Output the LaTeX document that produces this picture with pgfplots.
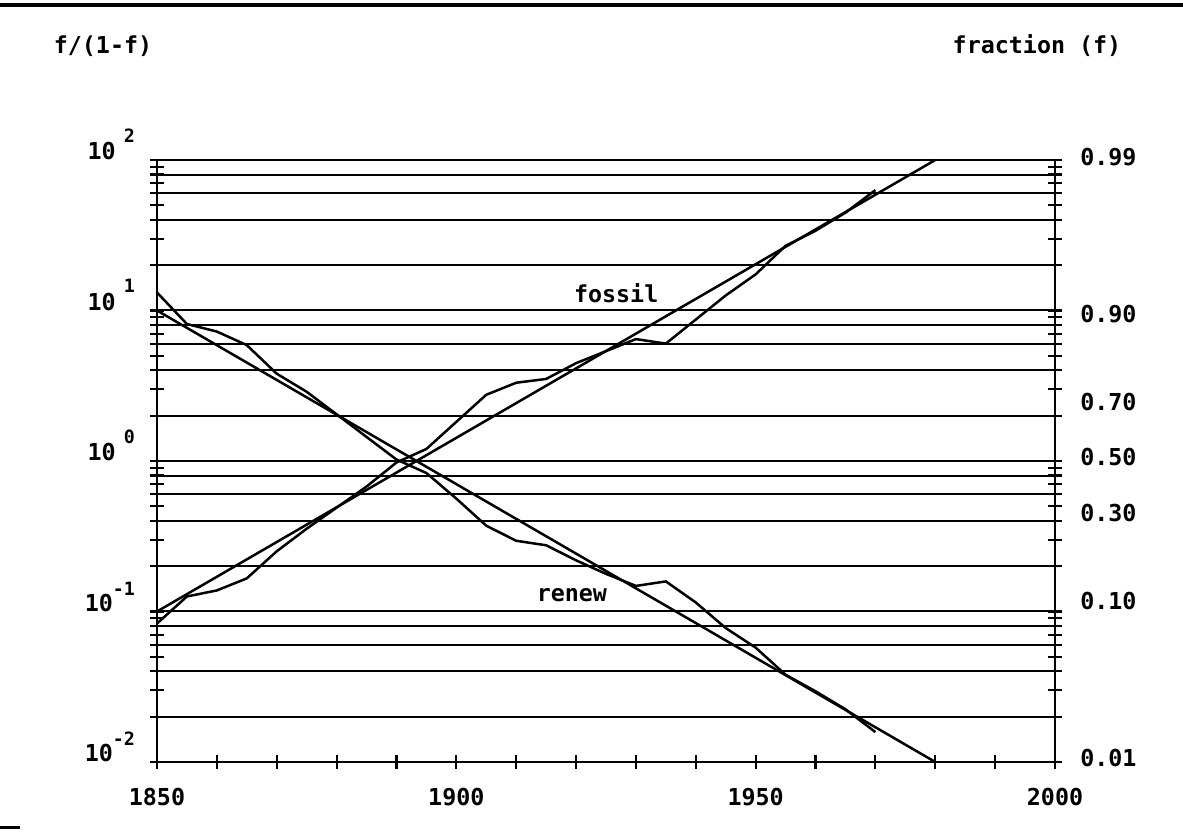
\documentclass[border=0pt]{standalone}
\usepackage{fontspec}
\setmainfont{DejaVu Sans Mono}
\usepackage{pgfplots}
\pgfplotsset{compat=1.18}
\newcommand{\lf}{\fontsize{14}{16}\selectfont\bfseries}
\newcommand{\supf}{\fontsize{11}{12}\selectfont\bfseries}
\newcommand{\ep}[1]{10\hspace{5pt}\raisebox{10.5pt}{\supf #1}}
\newcommand{\en}[1]{10\raisebox{9.6pt}{\supf -#1}}
\begin{document}
\begin{tikzpicture}
\begin{axis}[
  at={(0,0)}, anchor=south west, scale only axis,
  width=538.8pt, height=361.2pt,
  xmin=1850, xmax=2000, ymode=log, ymin=0.01, ymax=100,
  axis line style={line width=1.4pt, black},
  every tick/.style={line width=1.3pt, black},
  tick align=center,
  major tick length=8pt, minor tick length=8pt,
  xtick={1850,1860,...,2000},
  xticklabels={1850,,,,,1900,,,,,1950,,,,,2000},
  xtick pos=bottom,
  ytick={0.01,0.1,1,10,100},
  yticklabels={\en{2},\en{1},\ep{0},\ep{1},\ep{2}},
  minor ytick={0.02,0.03,0.04,0.05,0.06,0.07,0.08,0.09,0.2,0.3,0.4,0.5,0.6,0.7,0.8,0.9,2,3,4,5,6,7,8,9,20,30,40,50,60,70,80,90},
  yticklabel pos=left,
  ymajorgrids=true,
  major grid style={line width=1.2pt, black},
  extra y ticks={0.02,0.04,0.06,0.08,0.2,0.4,0.6,0.8,2,4,6,8,20,40,60,80},
  extra y tick labels={},
  extra y tick style={grid=major},
  tick label style={font=\lf, inner sep=0pt},
  yticklabel style={anchor=base east, xshift=-9pt},
  xticklabel style={anchor=base, yshift=-22pt},
  clip=false,
]
\addplot[black, line width=1.5pt] coordinates {(1850,0.1) (1980,100)};
\addplot[black, line width=1.5pt] coordinates {(1850,10) (1980,0.01)};
\addplot[black, line width=1.5pt, line join=round] coordinates {
(1850,0.0832) (1855,0.1259) (1860,0.1380) (1865,0.1660) (1870,0.2512)
(1875,0.3548) (1880,0.4898) (1885,0.6761) (1890,0.9772) (1895,1.202)
(1900,1.820) (1905,2.754) (1910,3.311) (1915,3.508) (1920,4.467)
(1925,5.370) (1930,6.457) (1935,6.026) (1940,8.710) (1945,12.59)
(1950,17.38) (1955,26.92) (1960,33.88) (1965,44.67) (1970,63.10)};
\addplot[black, line width=1.5pt, line join=round] coordinates {
(1850,13.18) (1855,8.128) (1860,7.244) (1865,5.888) (1870,3.802)
(1875,2.884) (1880,2.042) (1885,1.445) (1890,1.023) (1895,0.8318)
(1900,0.5623) (1905,0.3715) (1910,0.2951) (1915,0.2754) (1920,0.2188)
(1925,0.1778) (1930,0.1479) (1935,0.1585) (1940,0.1148) (1945,0.0776)
(1950,0.0575) (1955,0.0380) (1960,0.0295) (1965,0.0224) (1970,0.0158)};
\node[font=\lf] at (axis cs:1926.7,12.98) {fossil};
\node[font=\lf] at (axis cs:1919.3,0.128) {renew};
\end{axis}
\begin{axis}[
  at={(0,0)}, anchor=south west, scale only axis,
  width=538.8pt, height=361.2pt,
  xmin=1850, xmax=2000, ymode=log, ymin=0.01, ymax=100,
  hide x axis, axis y line*=right, axis line style={draw=none},
  ytick={99,9,2.333333,1,0.4285714,0.1111111,0.01010101},
  yticklabels={0.99,0.90,0.70,0.50,0.30,0.10,0.01},
  major tick length=0pt, minor tick length=0pt,
  tick label style={font=\lf, inner sep=0pt},
  yticklabel style={anchor=base west, xshift=15pt, yshift=-3pt},
]
\addplot[draw=none] coordinates {(1900,1)};
\end{axis}
\node[font=\lf] at (-32.4pt,429.6pt) {f/(1-f)};
\node[font=\lf] at (528pt,429.6pt) {fraction (f)};
\draw[line width=2.4pt] (-94.2pt,454.2pt) -- (615.6pt,454.2pt);
\draw[line width=1.8pt] (-94.2pt,-39.6pt) -- (-82.2pt,-39.6pt);
\pgfresetboundingbox
\path[use as bounding box] (-94.2pt,-42.6pt) rectangle (615.6pt,457.2pt);
\end{tikzpicture}
\end{document}
